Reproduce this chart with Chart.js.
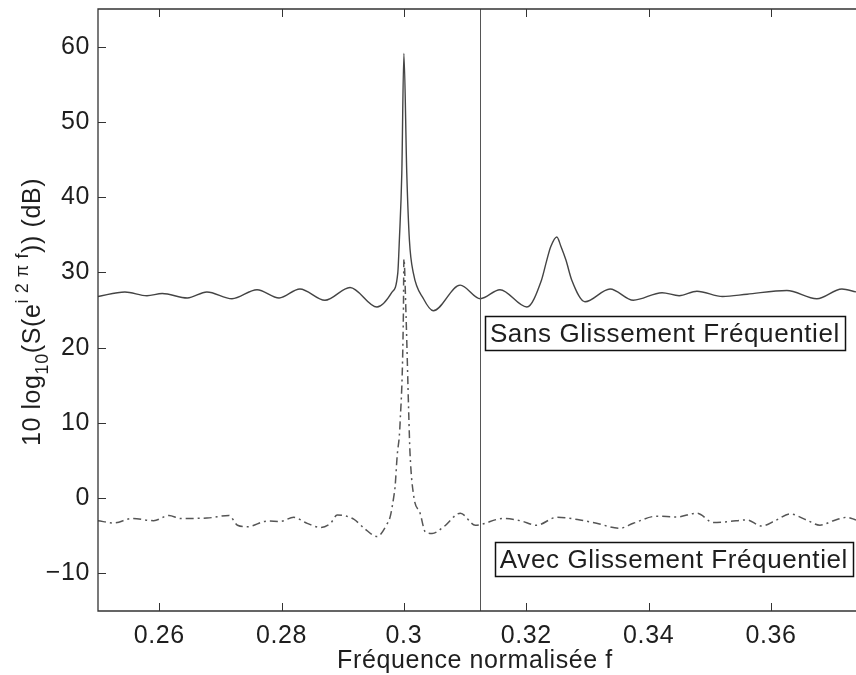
<!DOCTYPE html>
<html>
<head>
<meta charset="utf-8">
<script src="https://cdn.jsdelivr.net/npm/chart.js@4.4.1/dist/chart.umd.min.js"></script>
<style>
html,body{margin:0;padding:0;background:#fff;}
#wrap{width:856px;height:675px;position:relative;}
</style>
</head>
<body>
<div id="wrap"><canvas id="c"></canvas></div>
<script>
// ---------- data ----------
const xTicks = [0.26, 0.28, 0.30, 0.32, 0.34, 0.36];
const xTickLabels = ['0.26', '0.28', '0.3', '0.32', '0.34', '0.36'];
const yTicks = [-10, 0, 10, 20, 30, 40, 50, 60];
const yTickLabels = ['\u221210', '0', '10', '20', '30', '40', '50', '60'];

// Sans Glissement Fréquentiel (solid)
const freqSans = [0.2500, 0.2544, 0.2580, 0.2605, 0.2646, 0.2678, 0.2719, 0.2760, 0.2796, 0.2830,
  0.2871, 0.2912, 0.2956, 0.2980, 0.2990, 0.29926, 0.29966, 0.3000, 0.30047, 0.3009, 0.30155,
  0.3032, 0.3048, 0.3092, 0.3125, 0.3157, 0.3201, 0.3225, 0.32335, 0.3240, 0.3250, 0.32569,
  0.3265, 0.32743, 0.3296, 0.3337, 0.3375, 0.3422, 0.3450, 0.3479, 0.3521, 0.3561, 0.3626, 0.3675,
  0.3716, 0.3739];
const dbSans = [26.8, 27.4, 26.9, 27.2, 26.6, 27.4, 26.5, 27.7, 26.6, 27.8,
  26.3, 28.0, 25.4, 27.3, 29.9, 34.3, 43.2, 59.1, 43.2, 34.3, 29.9,
  26.5, 24.9, 28.3, 26.5, 27.7, 25.4, 29.0, 31.6, 33.4, 34.7, 33.4,
  31.6, 29.0, 26.1, 27.8, 26.3, 27.3, 26.9, 27.5, 26.8, 27.1, 27.6, 26.5,
  27.8, 27.4];

// Avec Glissement Fréquentiel (dash-dot)
const freqAvec = [0.2500, 0.2526, 0.2556, 0.2591, 0.2616, 0.2635, 0.2678, 0.2714, 0.2728, 0.2744,
  0.2777, 0.2798, 0.2820, 0.2842, 0.2864, 0.2880, 0.2891, 0.2918, 0.2935, 0.2956, 0.2973,
  0.29775, 0.29835, 0.29856, 0.29889, 0.29938, 0.29992, 0.3000, 0.30036, 0.3008, 0.3010,
  0.30162, 0.30265, 0.30351, 0.30461, 0.30652, 0.30923, 0.31168, 0.3163, 0.3190, 0.3217,
  0.3250, 0.3288, 0.3315, 0.3353, 0.3375, 0.3413, 0.3446, 0.3479, 0.3506, 0.3533, 0.3560,
  0.3585, 0.3609, 0.3631, 0.3658, 0.3680, 0.3702, 0.3724, 0.3739];
const dbAvec = [-3.0, -3.3, -2.7, -3.0, -2.3, -2.7, -2.65, -2.3, -3.6, -3.8,
  -3.05, -3.1, -2.55, -3.35, -3.9, -3.35, -2.25, -2.8, -4.0, -5.1, -3.35,
  -2.5, 0.2, 1.5, 5.5, 10.0, 24.6, 31.8, 24.0, 11.0, 6.0,
  0.2, -2.0, -4.5, -4.7, -3.8, -2.0, -3.6, -2.7, -3.0, -3.6,
  -2.55, -2.9, -3.35, -4.0, -3.35, -2.4, -2.5, -2.0, -3.25, -3.1, -2.9,
  -3.7, -2.9, -2.1, -2.9, -3.6, -3.0, -2.55, -2.9];

const markerFreq = 0.3125;
const xTitle = 'Fréquence normalisée f';
const labelSans = 'Sans Glissement Fréquentiel';
const labelAvec = 'Avec Glissement Fréquentiel';

// ---------- style ----------
const FONT = '"Liberation Sans", Arial, Helvetica, sans-serif';
const TXT = '#1e1e1e';
const AXIS = '#333';
const SPACING = '0.6px';

const toPts = (xs, ys) => xs.map((x, i) => ({x: x, y: ys[i]}));

const spacingPlugin = {
  id: 'spacing',
  beforeDraw(chart) { chart.ctx.letterSpacing = SPACING; }
};

const framePlugin = {
  id: 'frame',
  afterDatasetsDraw(chart) {
    const {ctx, chartArea: a, scales: {x, y}} = chart;
    ctx.save();
    ctx.letterSpacing = SPACING;
    // vertical marker line
    const mx = Math.round(x.getPixelForValue(markerFreq)) + 0.5;
    ctx.strokeStyle = '#555';
    ctx.lineWidth = 1;
    ctx.beginPath(); ctx.moveTo(mx, a.top); ctx.lineTo(mx, a.bottom); ctx.stroke();

    // frame: left, top, bottom
    ctx.strokeStyle = AXIS;
    ctx.lineWidth = 1.3;
    ctx.beginPath();
    ctx.moveTo(a.right + 1, a.top); ctx.lineTo(a.left, a.top);
    ctx.lineTo(a.left, a.bottom); ctx.lineTo(a.right + 1, a.bottom);
    ctx.stroke();

    // inward ticks
    const tl = 8;
    ctx.lineWidth = 1;
    ctx.beginPath();
    xTicks.forEach(v => {
      const px = Math.round(x.getPixelForValue(v)) + 0.5;
      ctx.moveTo(px, a.bottom); ctx.lineTo(px, a.bottom - tl);
      ctx.moveTo(px, a.top); ctx.lineTo(px, a.top + tl);
    });
    yTicks.forEach(v => {
      const py = Math.round(y.getPixelForValue(v)) + 0.5;
      ctx.moveTo(a.left, py); ctx.lineTo(a.left + tl, py);
    });
    ctx.stroke();

    // annotation boxes
    ctx.font = '26px ' + FONT;
    ctx.textBaseline = 'alphabetic';
    ctx.textAlign = 'left';
    const box = (text, fx, vy) => {
      const bx = x.getPixelForValue(fx);
      const by = y.getPixelForValue(vy);
      const w = ctx.measureText(text).width + 10;
      const h = 34;
      ctx.fillStyle = '#fff';
      ctx.fillRect(bx, by, w, h);
      ctx.strokeStyle = '#111';
      ctx.lineWidth = 1.5;
      ctx.strokeRect(Math.round(bx) + 0.5, Math.round(by) + 0.5, Math.round(w), h);
      ctx.fillStyle = TXT;
      ctx.fillText(text, bx + 5, by + 26);
    };
    box(labelSans, 0.31324, 24.2);
    box(labelAvec, 0.31487, -5.84);

    // x title
    ctx.font = '25px ' + FONT;
    ctx.fillStyle = TXT;
    ctx.textAlign = 'center';
    ctx.fillText(xTitle, (a.left + a.right) / 2 - 2, 668);

    // y title (rotated, with sub/superscripts)
    const segs = [
      {t: '10 log', s: 25, dy: 0},
      {t: '10', s: 18, dy: 8},
      {t: '(S(e', s: 25, dy: 0},
      {t: 'i 2 \u03c0 f', s: 18, dy: -12},
      {t: ')) (dB)', s: 25, dy: 0}
    ];
    let total = 0;
    segs.forEach(sg => { ctx.font = sg.s + 'px ' + FONT; sg.w = ctx.measureText(sg.t).width; total += sg.w; });
    ctx.translate(40, 312);
    ctx.rotate(-Math.PI / 2);
    ctx.textAlign = 'left';
    let cx = -total / 2;
    segs.forEach(sg => {
      ctx.font = sg.s + 'px ' + FONT;
      ctx.fillText(sg.t, cx, sg.dy);
      cx += sg.w;
    });
    ctx.restore();
  }
};

new Chart(document.getElementById('c'), {
  type: 'scatter',
  data: {
    datasets: [
      {
        label: labelSans,
        data: toPts(freqSans, dbSans),
        showLine: true,
        borderColor: '#444',
        borderWidth: 1.4,
        pointRadius: 0,
        cubicInterpolationMode: 'monotone',
        tension: 0.4,
        fill: false
      },
      {
        label: labelAvec,
        data: toPts(freqAvec, dbAvec),
        showLine: true,
        borderColor: '#555',
        borderWidth: 1.5,
        borderDash: [8, 4, 2, 4],
        pointRadius: 0,
        cubicInterpolationMode: 'monotone',
        tension: 0.4,
        fill: false
      }
    ]
  },
  options: {
    responsive: true,
    maintainAspectRatio: false,
    animation: false,
    layout: {padding: {top: 9, right: 0, left: 0, bottom: 0}},
    plugins: {legend: {display: false}, tooltip: {enabled: false}},
    scales: {
      x: {
        type: 'linear',
        min: 0.25,
        max: 0.3739,
        afterBuildTicks: s => { s.ticks = xTicks.map(v => ({value: v})); },
        afterFit: s => { s.height = 64; s.paddingLeft = 0; s.paddingRight = 0; },
        grid: {display: false, drawTicks: false},
        border: {display: false},
        ticks: {
          padding: 10,
          color: TXT,
          font: {family: FONT, size: 25},
          maxRotation: 0,
          autoSkip: false,
          callback: (v) => { const i = xTicks.findIndex(t => Math.abs(t - v) < 1e-9); return i >= 0 ? xTickLabels[i] : ''; }
        }
      },
      y: {
        type: 'linear',
        min: -15,
        max: 65,
        afterBuildTicks: s => { s.ticks = yTicks.map(v => ({value: v})); },
        afterFit: s => { s.width = 98; s.paddingTop = 0; s.paddingBottom = 0; },
        grid: {display: false, drawTicks: false},
        border: {display: false},
        ticks: {
          padding: 8,
          color: TXT,
          font: {family: FONT, size: 25},
          autoSkip: false,
          callback: (v) => { const i = yTicks.indexOf(v); return i >= 0 ? yTickLabels[i] : ''; }
        }
      }
    }
  },
  plugins: [spacingPlugin, framePlugin]
});
</script>
</body>
</html>
